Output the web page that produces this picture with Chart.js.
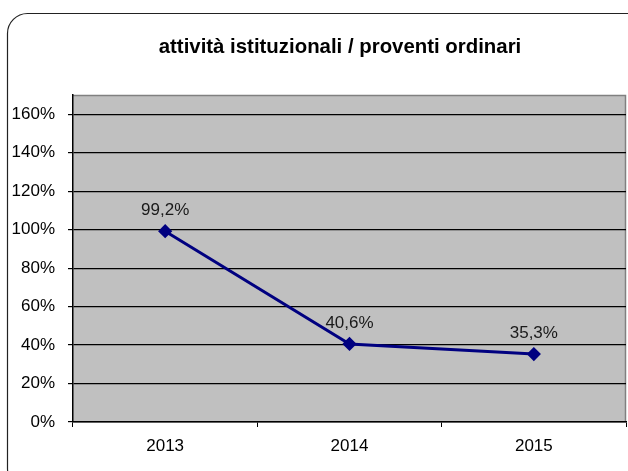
<!DOCTYPE html>
<html>
<head>
<meta charset="utf-8">
<script src="https://cdn.jsdelivr.net/npm/chart.js@4/dist/chart.umd.min.js"></script>
<style>
  html, body { margin: 0; padding: 0; background: #ffffff; }
  canvas { display: block; }
</style>
</head>
<body>
<canvas id="c" width="628" height="471"></canvas>
<script>
// Ratio of institutional activities to ordinary income, by year
const titleText = 'attività istituzionali / proventi ordinari';
const years = ['2013', '2014', '2015'];
const ratios = [99.2, 40.6, 35.3];
const yTicks = [0, 20, 40, 60, 80, 100, 120, 140, 160];

const FONT = '"Liberation Sans", Arial, sans-serif';

const fmtPct = v => v.toFixed(1).replace('.', ',') + '%';

// Rounded frame around the whole chart and the heading
const framePlugin = {
  id: 'frame',
  beforeDraw(chart) {
    const ctx = chart.ctx;
    ctx.save();
    ctx.fillStyle = '#ffffff';
    ctx.fillRect(0, 0, chart.width, chart.height);
    const x = 7.5, y = 13.5, w = 665, h = 475, r = 20;
    ctx.beginPath();
    ctx.moveTo(x + r, y);
    ctx.lineTo(x + w - r, y);
    ctx.arcTo(x + w, y, x + w, y + r, r);
    ctx.lineTo(x + w, y + h - r);
    ctx.arcTo(x + w, y + h, x + w - r, y + h, r);
    ctx.lineTo(x + r, y + h);
    ctx.arcTo(x, y + h, x, y + h - r, r);
    ctx.lineTo(x, y + r);
    ctx.arcTo(x, y, x + r, y, r);
    ctx.closePath();
    ctx.strokeStyle = '#222222';
    ctx.lineWidth = 1.2;
    ctx.stroke();

    ctx.fillStyle = '#000000';
    ctx.font = 'bold 20.4px ' + FONT;
    ctx.textAlign = 'center';
    ctx.textBaseline = 'alphabetic';
    ctx.fillText(titleText, 340, 53);
    ctx.restore();
  }
};

// Grey plot area with a darker edge on top and right
const plotAreaPlugin = {
  id: 'plotArea',
  beforeDraw(chart) {
    const { ctx, chartArea: a } = chart;
    ctx.save();
    ctx.fillStyle = '#c0c0c0';
    ctx.fillRect(a.left, a.top, a.right - a.left, a.bottom - a.top);
    ctx.strokeStyle = '#808080';
    ctx.lineWidth = 1.5;
    ctx.beginPath();
    ctx.moveTo(a.left, a.top + 0.5);
    ctx.lineTo(a.right - 0.5, a.top + 0.5);
    ctx.lineTo(a.right - 0.5, a.bottom);
    ctx.stroke();
    ctx.restore();
  }
};

// Value labels above each point
const valueLabelPlugin = {
  id: 'valueLabels',
  afterDatasetsDraw(chart) {
    const ctx = chart.ctx;
    const meta = chart.getDatasetMeta(0);
    ctx.save();
    ctx.fillStyle = '#1a1a1a';
    ctx.font = '17px ' + FONT;
    ctx.textAlign = 'center';
    ctx.textBaseline = 'alphabetic';
    meta.data.forEach((pt, i) => {
      ctx.fillText(fmtPct(ratios[i]), pt.x, pt.y - 16);
    });
    ctx.restore();
  }
};

new Chart(document.getElementById('c'), {
  type: 'line',
  data: {
    labels: years,
    datasets: [{
      data: ratios,
      borderColor: '#000080',
      backgroundColor: '#000080',
      borderWidth: 3,
      pointStyle: 'rectRot',
      pointRadius: 5,
      pointHoverRadius: 5,
      pointBackgroundColor: '#000080',
      pointBorderColor: '#000080',
      tension: 0,
      fill: false
    }]
  },
  options: {
    responsive: false,
    devicePixelRatio: 1,
    animation: false,
    events: [],
    layout: { autoPadding: false, padding: { top: 95, right: 2, left: 0, bottom: 0 } },
    plugins: {
      legend: { display: false },
      title: { display: false },
      tooltip: { enabled: false }
    },
    scales: {
      x: {
        offset: true,
        grid: {
          offset: true,
          drawOnChartArea: false,
          drawTicks: true,
          tickLength: 5,
          tickColor: '#000000',
          tickWidth: 1
        },
        border: { color: '#000000', width: 1.5 },
        ticks: {
          color: '#000000',
          font: { family: FONT, size: 17 },
          padding: 9
        },
        afterFit(scale) {
          scale.height = 49;
          scale.paddingLeft = 0;
          scale.paddingRight = 0;
        }
      },
      y: {
        min: 0,
        max: 170,
        afterBuildTicks(scale) {
          scale.ticks = yTicks.map(v => ({ value: v }));
        },
        grid: {
          color: '#000000',
          lineWidth: 1.2,
          drawTicks: true,
          tickLength: 5,
          tickColor: '#000000'
        },
        border: { color: '#000000', width: 1.5 },
        ticks: {
          color: '#000000',
          font: { family: FONT, size: 17 },
          padding: 13,
          callback: v => v + '%'
        },
        afterFit(scale) { scale.width = 73; }
      }
    }
  },
  plugins: [framePlugin, plotAreaPlugin, valueLabelPlugin]
});
</script>
</body>
</html>
